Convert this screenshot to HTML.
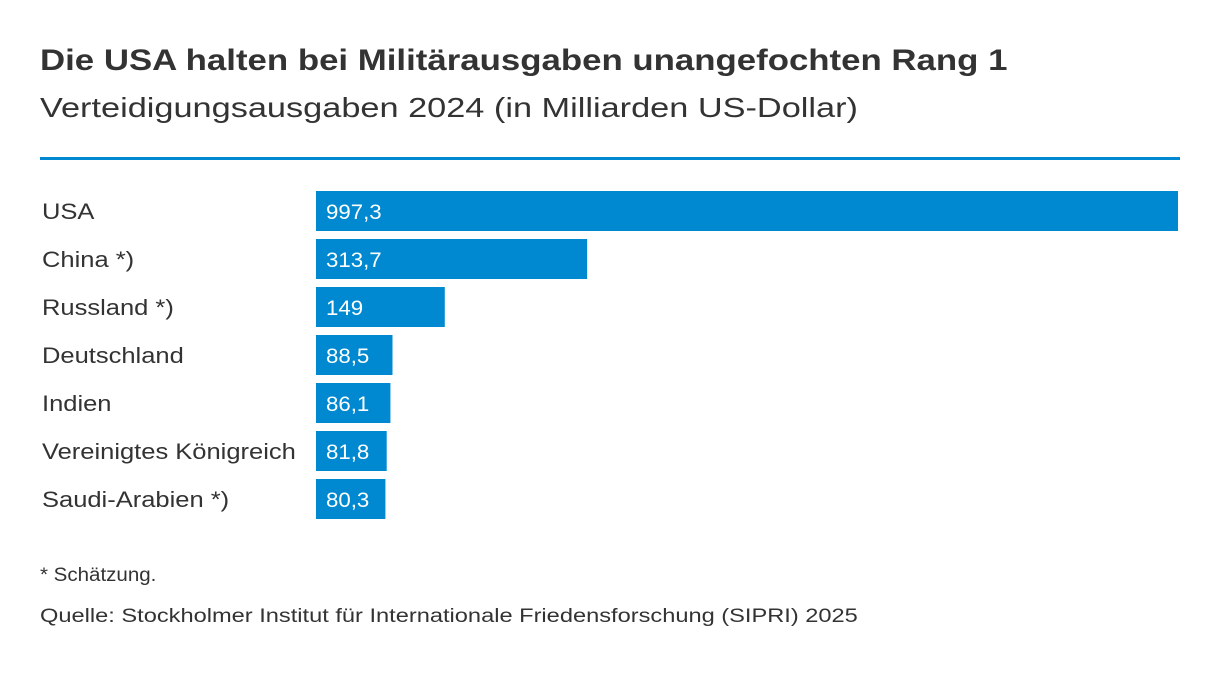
<!DOCTYPE html>
<html><head><meta charset="utf-8"><style>
body{margin:0;width:1220px;height:674px;background:#fff;font-family:"Liberation Sans","DejaVu Sans",sans-serif;color:#333;position:relative;overflow:hidden}
.t{position:absolute;white-space:nowrap;transform-origin:0 0}
</style></head><body>
<div class="t" style="left:40px;top:44px;font-size:30px;font-weight:bold;color:#333;transform:scaleX(1.16)">Die USA halten bei Militärausgaben unangefochten Rang 1</div>
<div class="t" style="left:40px;top:92px;font-size:28px;color:#333;transform:scaleX(1.225)">Verteidigungsausgaben 2024 (in Milliarden US-Dollar)</div>
<div style="position:absolute;left:40px;top:157px;width:1140px;height:3px;background:#0089d0"></div>
<svg id="chart" width="1220" height="674" style="position:absolute;left:0;top:0"></svg>
<div class="t" style="left:40px;top:565px;font-size:19px;transform:scaleX(1.08)">* Schätzung.</div>
<div class="t" style="left:40px;top:606px;font-size:19px;transform:scaleX(1.243)">Quelle: Stockholmer Institut für Internationale Friedensforschung (SIPRI) 2025</div>
<script>
const categories=["USA","China *)","Russland *)","Deutschland","Indien","Vereinigtes Königreich","Saudi-Arabien *)"];
const values=[997.3,313.7,149,88.5,86.1,81.8,80.3];
const valueLabels=["997,3","313,7","149","88,5","86,1","81,8","80,3"];
const svg=document.getElementById('chart');
const NS='http://www.w3.org/2000/svg';
const x0=316,xMax=997.3,wMax=862;
const xScale=v=>v/xMax*wMax;
const yScale=i=>191+48*i;
const ls=1.16,vs=1.06;
categories.forEach((c,i)=>{
  const y=yScale(i);
  const r=document.createElementNS(NS,'rect');
  
  
  r.setAttribute('x',x0);r.setAttribute('y',y);
  r.setAttribute('width',xScale(values[i]));r.setAttribute('height',40);
  r.setAttribute('fill','#0089d0');svg.appendChild(r);
  const lab=document.createElementNS(NS,'text');
  
  
  lab.setAttribute('x',42/ls);lab.setAttribute('y',y+28);
  lab.setAttribute('transform','scale('+ls+',1)');
  lab.setAttribute('font-size','22');lab.setAttribute('fill','#333');
  lab.textContent=c;svg.appendChild(lab);
  const v=document.createElementNS(NS,'text');
  
  
  v.setAttribute('x',326/vs);v.setAttribute('y',y+28);
  v.setAttribute('transform','scale('+vs+',1)');
  v.setAttribute('font-size','21');v.setAttribute('fill','#fff');
  v.textContent=valueLabels[i];svg.appendChild(v);
});
</script>
</body></html>
